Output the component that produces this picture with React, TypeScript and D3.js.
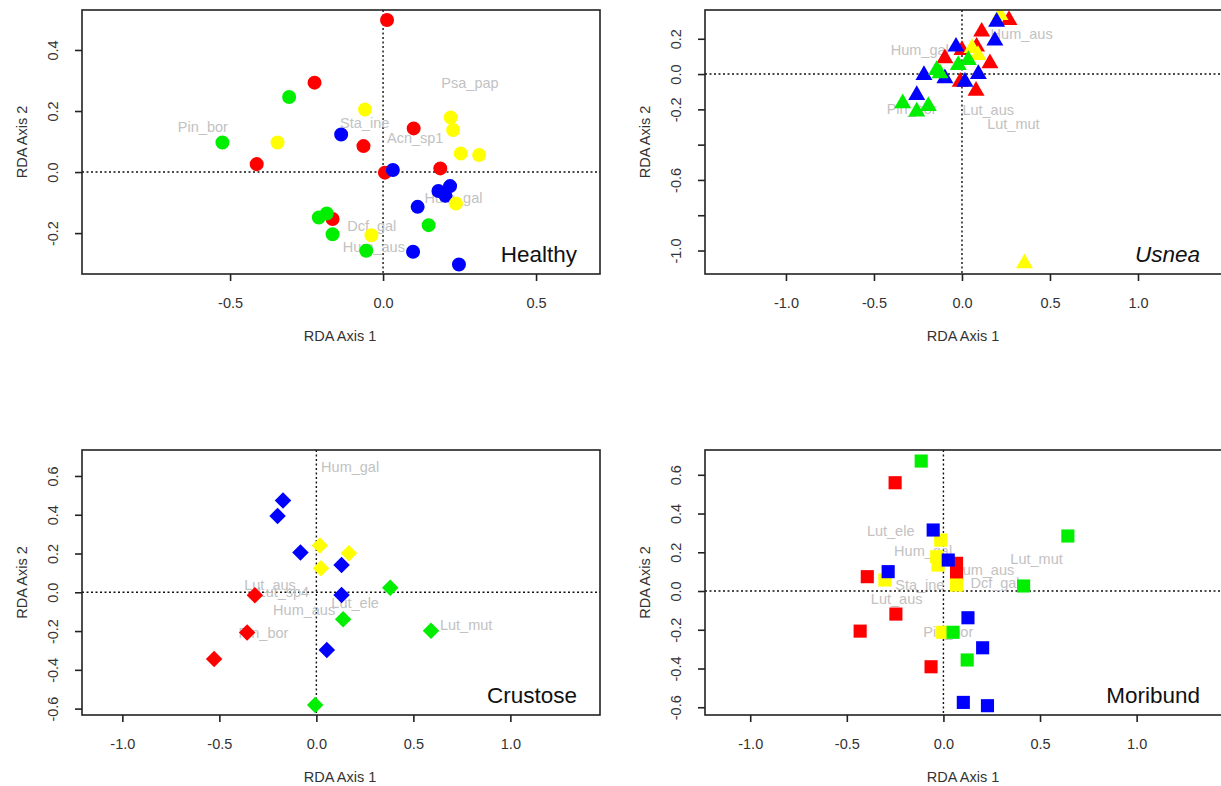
import React, { useEffect, useRef } from "react";
import * as d3 from "d3";

const font = "'Liberation Sans', Arial, Helvetica, sans-serif";

const colors: Record<string, string> = {
  red: "#ff0000",
  yellow: "#ffff00",
  blue: "#0000ff",
  green: "#00ee00",
};

// ---- Healthy (circles) ----
const healthyPoints: [number, number, string][] = [
  [0.013, 0.498, "red"], [-0.224, 0.293, "red"], [0.1, 0.143, "red"], [-0.064, 0.085, "red"],
  [-0.413, 0.026, "red"], [0.006, -0.002, "red"], [0.187, 0.012, "red"], [-0.165, -0.154, "red"],
  [-0.307, 0.246, "green"], [-0.525, 0.097, "green"], [-0.21, -0.149, "green"], [-0.184, -0.136, "green"],
  [-0.165, -0.204, "green"], [-0.055, -0.258, "green"], [0.149, -0.174, "green"],
  [-0.137, 0.123, "blue"], [0.032, 0.007, "blue"], [0.219, -0.046, "blue"], [0.181, -0.062, "blue"],
  [0.204, -0.078, "blue"], [0.113, -0.114, "blue"], [0.098, -0.261, "blue"], [0.248, -0.303, "blue"],
  [-0.059, 0.205, "yellow"], [-0.345, 0.097, "yellow"], [0.221, 0.179, "yellow"], [0.229, 0.138, "yellow"],
  [0.254, 0.061, "yellow"], [0.314, 0.056, "yellow"], [0.238, -0.103, "yellow"], [-0.038, -0.207, "yellow"],
];
const healthyLabels: [string, number, number][] = [
  ["Psa_pap", 0.284, 0.291], ["Pin_bor", -0.589, 0.148], ["Sta_ine", -0.06, 0.16],
  ["Acn_sp1", 0.105, 0.112], ["Hum_gal", 0.23, -0.085], ["Dcf_gal", -0.037, -0.175],
  ["Hum_aus", -0.03, -0.245],
];

// ---- Usnea (triangles) ----
const usneaPoints: [number, number, string][] = [
  [0.267, 0.306, "red"], [0.112, 0.24, "red"], [0.083, 0.155, "red"], [-0.097, 0.089, "red"],
  [0.159, 0.061, "red"], [0.0, 0.136, "red"], [-0.01, -0.044, "red"], [0.08, -0.095, "red"],
  [0.216, 0.334, "yellow"], [0.057, 0.147, "yellow"], [0.091, 0.108, "yellow"], [0.355, -1.073, "yellow"],
  [0.197, 0.296, "blue"], [0.187, 0.189, "blue"], [-0.034, 0.155, "blue"], [-0.216, -0.006, "blue"],
  [-0.097, -0.024, "blue"], [0.093, 0.0, "blue"], [0.017, -0.044, "blue"], [-0.257, -0.119, "blue"],
  [-0.144, 0.023, "green"], [-0.125, 0.004, "green"], [-0.021, 0.051, "green"], [0.036, 0.079, "green"],
  [-0.337, -0.166, "green"], [-0.257, -0.213, "green"], [-0.191, -0.181, "green"],
];
const usneaLabels: [string, number, number][] = [
  ["Hum_aus", 0.339, 0.231], ["Hum_gal", -0.24, 0.136], ["Pin_bor", -0.286, -0.194],
  ["Lut_aus", 0.149, -0.204], ["Lut_mut", 0.292, -0.279],
];

// ---- Crustose (diamonds) ----
const crustosePoints: [number, number, string][] = [
  [-0.317, -0.015, "red"], [-0.357, -0.208, "red"], [-0.527, -0.344, "red"],
  [0.018, 0.241, "yellow"], [0.168, 0.201, "yellow"], [0.024, 0.124, "yellow"],
  [-0.172, 0.473, "blue"], [-0.2, 0.394, "blue"], [-0.082, 0.205, "blue"], [0.13, 0.141, "blue"],
  [0.13, -0.014, "blue"], [0.054, -0.298, "blue"],
  [0.381, 0.024, "green"], [0.138, -0.139, "green"], [0.591, -0.198, "green"], [-0.006, -0.581, "green"],
];
const crustoseLabels: [string, number, number][] = [
  ["Hum_gal", 0.174, 0.648], ["Lut_aus", -0.239, 0.038], ["Lut_sp4", -0.17, 0.005],
  ["Lut_ele", 0.2, -0.054], ["Hum_aus", -0.063, -0.088], ["Pin_bor", -0.273, -0.208],
  ["Lut_mut", 0.772, -0.17],
];

// ---- Moribund (squares) ----
const moribundPoints: [number, number, string][] = [
  [-0.25, 0.559, "red"], [0.068, 0.143, "red"], [0.068, 0.085, "red"], [-0.394, 0.074, "red"],
  [-0.246, -0.119, "red"], [-0.431, -0.207, "red"], [-0.064, -0.391, "red"],
  [-0.014, 0.263, "yellow"], [-0.035, 0.177, "yellow"], [-0.028, 0.134, "yellow"], [-0.303, 0.057, "yellow"],
  [0.068, 0.031, "yellow"], [-0.004, -0.213, "yellow"],
  [-0.053, 0.315, "blue"], [0.025, 0.16, "blue"], [-0.286, 0.1, "blue"], [0.127, -0.138, "blue"],
  [0.203, -0.293, "blue"], [0.103, -0.575, "blue"], [0.228, -0.592, "blue"],
  [-0.115, 0.671, "green"], [0.644, 0.284, "green"], [0.415, 0.026, "green"], [0.05, -0.213, "green"],
  [0.123, -0.356, "green"],
];
const moribundLabels: [string, number, number][] = [
  ["Lut_ele", -0.273, 0.31], ["Hum_gal", -0.105, 0.208], ["Hum_aus", 0.206, 0.112],
  ["Lut_mut", 0.482, 0.164], ["Sta_ine", -0.122, 0.031], ["Dcf_gal", 0.267, 0.04],
  ["Lut_aus", -0.242, -0.038], ["Pin_bor", 0.025, -0.21],
];

const panels = [
  {
    title: "Healthy", italic: false, shape: "circle", points: healthyPoints, labels: healthyLabels,
    box: { left: 82, right: 600, top: 10, bottom: 274 },
    xDomain: [-0.984, 0.709], yDomain: [-0.334, 0.531],
    xTicks: [-0.5, 0, 0.5], yTicks: [-0.2, 0, 0.2, 0.4], yShown: [-0.2, 0, 0.2, 0.4],
  },
  {
    title: "Usnea", italic: true, shape: "triangle", points: usneaPoints, labels: usneaLabels,
    box: { left: 705, right: 1223, top: 10, bottom: 274 },
    xDomain: [-1.46, 1.483], yDomain: [-1.133, 0.363],
    xTicks: [-1, -0.5, 0, 0.5, 1], yTicks: [-1, -0.8, -0.6, -0.4, -0.2, 0, 0.2], yShown: [-1, -0.6, -0.2, 0, 0.2],
  },
  {
    title: "Crustose", italic: false, shape: "diamond", points: crustosePoints, labels: crustoseLabels,
    box: { left: 82, right: 600, top: 450, bottom: 715 },
    xDomain: [-1.208, 1.462], yDomain: [-0.633, 0.734],
    xTicks: [-1, -0.5, 0, 0.5, 1], yTicks: [-0.6, -0.4, -0.2, 0, 0.2, 0.4, 0.6], yShown: [-0.6, -0.4, -0.2, 0, 0.2, 0.4, 0.6],
  },
  {
    title: "Moribund", italic: false, shape: "square", points: moribundPoints, labels: moribundLabels,
    box: { left: 705, right: 1223, top: 450, bottom: 715 },
    xDomain: [-1.234, 1.447], yDomain: [-0.64, 0.728],
    xTicks: [-1, -0.5, 0, 0.5, 1], yTicks: [-0.6, -0.4, -0.2, 0, 0.2, 0.4, 0.6], yShown: [-0.6, -0.4, -0.2, 0, 0.2, 0.4, 0.6],
  },
];

const fmt = (v: number) => (Math.abs(v) < 1e-9 ? 0 : v).toFixed(1);

function drawPanel(svg: any, p: any, idx: number) {
  const { box } = p;
  const x = d3.scaleLinear().domain(p.xDomain).range([box.left, box.right]);
  const y = d3.scaleLinear().domain(p.yDomain).range([box.bottom, box.top]);

  const clipId = "clip-" + idx;
  svg.append("clipPath").attr("id", clipId)
    .append("rect")
    .attr("x", box.left).attr("y", box.top)
    .attr("width", box.right - box.left).attr("height", box.bottom - box.top);

  const plot = svg.append("g").attr("clip-path", `url(#${clipId})`);

  // dotted zero lines
  plot.append("line")
    .attr("x1", x(0)).attr("x2", x(0)).attr("y1", box.top).attr("y2", box.bottom)
    .attr("stroke", "#111").attr("stroke-width", 1.4).attr("stroke-dasharray", "2,2.5");
  plot.append("line")
    .attr("x1", box.left).attr("x2", box.right).attr("y1", y(0)).attr("y2", y(0))
    .attr("stroke", "#111").attr("stroke-width", 1.4).attr("stroke-dasharray", "2,2.5");

  // species labels
  plot.selectAll("text.species")
    .data(p.labels)
    .join("text")
    .attr("class", "species")
    .attr("x", (d: any) => x(d[1]))
    .attr("y", (d: any) => y(d[2]))
    .attr("dy", "0.36em")
    .attr("text-anchor", "middle")
    .attr("font-family", font)
    .attr("font-size", 14.5)
    .attr("fill", "#c2c2c2")
    .text((d: any) => d[0]);

  // sample points
  const shapes: Record<string, [any, number]> = {
    circle: [d3.symbolCircle, 154],
    triangle: [d3.symbolTriangle, 125],
    diamond: [d3.symbolSquare, 136],
    square: [d3.symbolSquare, 172],
  };
  const [type, size] = shapes[p.shape];
  const sym = d3.symbol().type(type).size(size);
  plot.selectAll("path.pt")
    .data(p.points)
    .join("path")
    .attr("class", "pt")
    .attr("d", sym as any)
    .attr("transform", (d: any) =>
      `translate(${x(d[0])},${y(d[1])})` + (p.shape === "diamond" ? " rotate(45)" : ""))
    .attr("fill", (d: any) => colors[d[2]]);

  // frame
  svg.append("rect")
    .attr("x", box.left).attr("y", box.top)
    .attr("width", box.right - box.left).attr("height", box.bottom - box.top)
    .attr("fill", "none").attr("stroke", "#222").attr("stroke-width", 1.6);

  // x axis
  const gx = svg.append("g")
    .attr("transform", `translate(0,${box.bottom})`)
    .call(d3.axisBottom(x).tickValues(p.xTicks).tickSize(7).tickFormat((d: any) => fmt(d)));
  gx.select(".domain").remove();
  gx.selectAll("line").attr("stroke", "#222").attr("stroke-width", 1.6);
  gx.selectAll("text")
    .attr("y", 34).attr("dy", null)
    .attr("font-family", font).attr("font-size", 14.5).attr("fill", "#333");

  // y axis
  const gy = svg.append("g")
    .attr("transform", `translate(${box.left},0)`)
    .call(d3.axisLeft(y).tickValues(p.yTicks).tickSize(7)
      .tickFormat((d: any) => (p.yShown.some((s: number) => Math.abs(s - d) < 1e-9) ? fmt(d) : "")));
  gy.select(".domain").remove();
  gy.selectAll("line").attr("stroke", "#222").attr("stroke-width", 1.6);
  gy.selectAll("text")
    .attr("transform", "rotate(-90)")
    .attr("x", 0).attr("y", -24).attr("dy", null)
    .attr("text-anchor", "middle")
    .attr("font-family", font).attr("font-size", 14.5).attr("fill", "#333");

  // axis titles
  svg.append("text")
    .attr("x", (box.left + box.right) / 2 - 1)
    .attr("y", box.bottom + 67)
    .attr("text-anchor", "middle")
    .attr("font-family", font).attr("font-size", 14.5).attr("fill", "#333")
    .text("RDA Axis 1");
  svg.append("text")
    .attr("transform", `translate(${box.left - 55},${(box.top + box.bottom) / 2}) rotate(-90)`)
    .attr("text-anchor", "middle")
    .attr("font-family", font).attr("font-size", 14.5).attr("fill", "#333")
    .text("RDA Axis 2");

  // panel title
  svg.append("text")
    .attr("x", box.right - 23)
    .attr("y", box.bottom - 12)
    .attr("text-anchor", "end")
    .attr("font-family", font).attr("font-size", 22.5)
    .attr("font-style", p.italic ? "italic" : "normal")
    .attr("fill", "#111")
    .text(p.title);
}

export default function App() {
  const ref = useRef<SVGSVGElement>(null);

  useEffect(() => {
    const svg = d3.select(ref.current);
    svg.selectAll("*").remove();
    panels.forEach((p, i) => drawPanel(svg, p, i));
  }, []);

  return (
    <svg
      ref={ref}
      width={1221}
      height={786}
      style={{ position: "absolute", left: 0, top: 0, background: "#fff", overflow: "hidden" }}
    />
  );
}
